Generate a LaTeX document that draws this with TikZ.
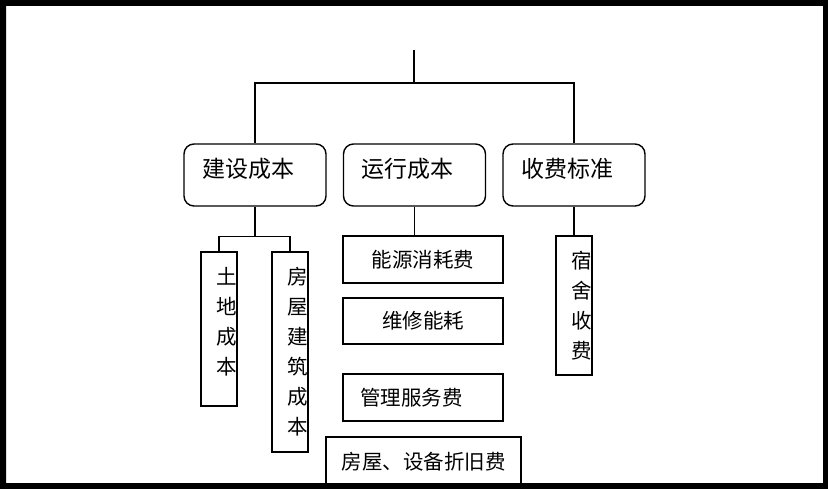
\documentclass[tikz,border=0pt]{standalone}
\usepackage{fontspec}
\setmainfont{Noto Sans CJK SC}
\usetikzlibrary{positioning}

\tikzset{
  topbox/.style={draw, rounded corners=10pt, minimum width=142pt, minimum height=62pt,
    text width=106pt, inner xsep=18pt, inner ysep=0pt, align=left,
    font=\fontsize{23}{28}\selectfont, text height=19pt, text depth=13pt},
  subbox/.style={draw, minimum width=160pt, minimum height=47pt, inner sep=0pt,
    font=\fontsize{20.5}{25}\selectfont},
  vertbox/.style={draw, minimum width=36pt, text width=36pt, inner sep=0pt, align=right,
    font=\fontsize{20.5}{30}\selectfont},
}

\begin{document}
\begin{tikzpicture}[x=1pt, y=-1pt, line width=1.4pt]

  \useasboundingbox (0,0) rectangle (828,489);

  \node[topbox] (jianshe) at (255,175) {建设成本};
  \node[topbox] (yunxing) at (414.5,175) {运行成本};
  \node[topbox] (shoufei) at (574,175) {收费标准};

  \node[vertbox, minimum height=154pt, text depth=106pt] (tudi) at (219,329) {土\\地\\成\\本};
  \node[vertbox, minimum height=200pt] (fangwu) at (290,352) {房\\屋\\建\\筑\\成\\本};

  \node[subbox] (nengyuan) at (423,259.5) {能源消耗费};
  \node[subbox, minimum height=46pt] (weixiu) at (423,321) {维修能耗};
  \node[subbox, text width=126pt, inner xsep=17pt, align=left] (guanli) at (423,397.5) {管理服务费};
  \node[subbox, minimum width=195pt, minimum height=50pt] (zhejiu) at (423.5,462) {房屋、设备折旧费};

  \node[vertbox, minimum height=139pt] (sushe) at (574,305.5) {宿\\舍\\收\\费};

  \coordinate (root) at (414,50);
  \coordinate (fork) at (414,83);

  \draw (root) -- (fork);
  \draw (jianshe.north) |- (fork) -| (shoufei.north);
  \draw (jianshe.south) -- ++(0,30) coordinate (split);
  \draw (tudi.north) |- (split) -| (fangwu.north);
  \draw (yunxing.south) -- (yunxing.south |- nengyuan.north);
  \draw (shoufei.south) -- (sushe.north);

  % frame
  \fill[black, even odd rule] (0,0) rectangle (828,489) (6,6) rectangle (823,483);

\end{tikzpicture}
\end{document}
